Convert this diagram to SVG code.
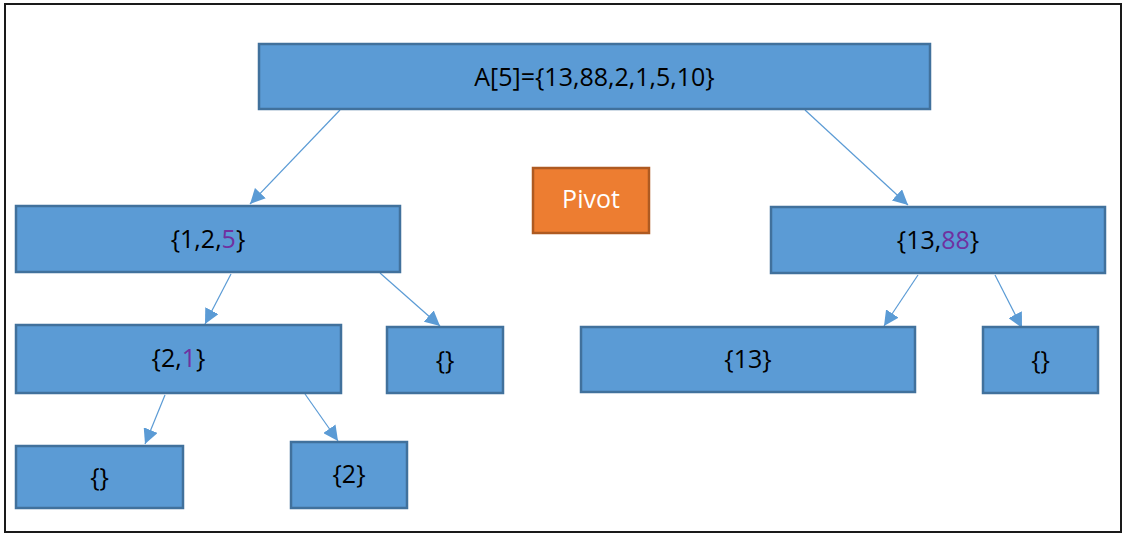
<svg xmlns="http://www.w3.org/2000/svg" width="1127" height="535" viewBox="0 0 1127 535">
<style>
.box{fill:#5B9BD5;stroke:#41719C;stroke-width:2.5}
.piv{fill:#ED7D31;stroke:#AE5A21;stroke-width:2.5}
.t{font-family:"Open Sans","Liberation Sans",sans-serif;font-size:25px;fill:#000;text-anchor:middle;dominant-baseline:central}
.p{fill:#7030A0}
.w{fill:#fff}
.c{stroke:#5B9BD5;stroke-width:1.2;fill:none;marker-end:url(#ah)}
</style>
<defs>
<marker id="ah" viewBox="0 0 10 10" refX="10" refY="5" markerWidth="15" markerHeight="15" markerUnits="userSpaceOnUse" orient="auto">
<path d="M0,0 L10,5 L0,10 z" fill="#5B9BD5"/>
</marker>
</defs>
<rect x="0" y="0" width="1127" height="535" fill="#fff"/>
<rect x="5" y="4" width="1116" height="528" fill="none" stroke="#1a1a1a" stroke-width="2"/>
<g id="connectors">
<line class="c" x1="340" y1="110" x2="250" y2="204"/>
<line class="c" x1="805" y1="110" x2="908" y2="205"/>
<line class="c" x1="231" y1="274" x2="205" y2="324"/>
<line class="c" x1="380" y1="273" x2="440" y2="326"/>
<line class="c" x1="165" y1="395" x2="145" y2="444"/>
<line class="c" x1="305" y1="394" x2="338" y2="441"/>
<line class="c" x1="918" y1="275" x2="884" y2="326"/>
<line class="c" x1="995" y1="275" x2="1022" y2="328"/>
</g>
<g id="root">
<rect class="box" x="259" y="44" width="671" height="65"/>
<text class="t" x="594.5" y="76">A[5]={13,88,2,1,5,10}</text>
</g>
<g id="pivot">
<rect class="piv" x="533" y="168" width="116" height="65"/>
<text class="t w" x="591" y="198">Pivot</text>
</g>
<g id="n125">
<rect class="box" x="16" y="206" width="384" height="66"/>
<text class="t" x="208" y="238">{1,2,<tspan class="p">5</tspan>}</text>
</g>
<g id="n1388">
<rect class="box" x="771" y="207" width="334" height="66"/>
<text class="t" x="938" y="239">{13,<tspan class="p">88</tspan>}</text>
</g>
<g id="n21">
<rect class="box" x="16" y="325" width="325" height="68"/>
<text class="t" x="178.5" y="357">{2,<tspan class="p">1</tspan>}</text>
</g>
<g id="nEmpty1">
<rect class="box" x="387" y="327" width="116" height="66"/>
<text class="t" x="445" y="359">{}</text>
</g>
<g id="n13">
<rect class="box" x="581" y="327" width="334" height="65"/>
<text class="t" x="748" y="358">{13}</text>
</g>
<g id="nEmpty2">
<rect class="box" x="983" y="327" width="115" height="66"/>
<text class="t" x="1040.5" y="359">{}</text>
</g>
<g id="nEmpty3">
<rect class="box" x="16" y="446" width="167" height="62"/>
<text class="t" x="99.5" y="476">{}</text>
</g>
<g id="n2">
<rect class="box" x="291" y="442" width="116" height="66"/>
<text class="t" x="349" y="473">{2}</text>
</g>
</svg>
